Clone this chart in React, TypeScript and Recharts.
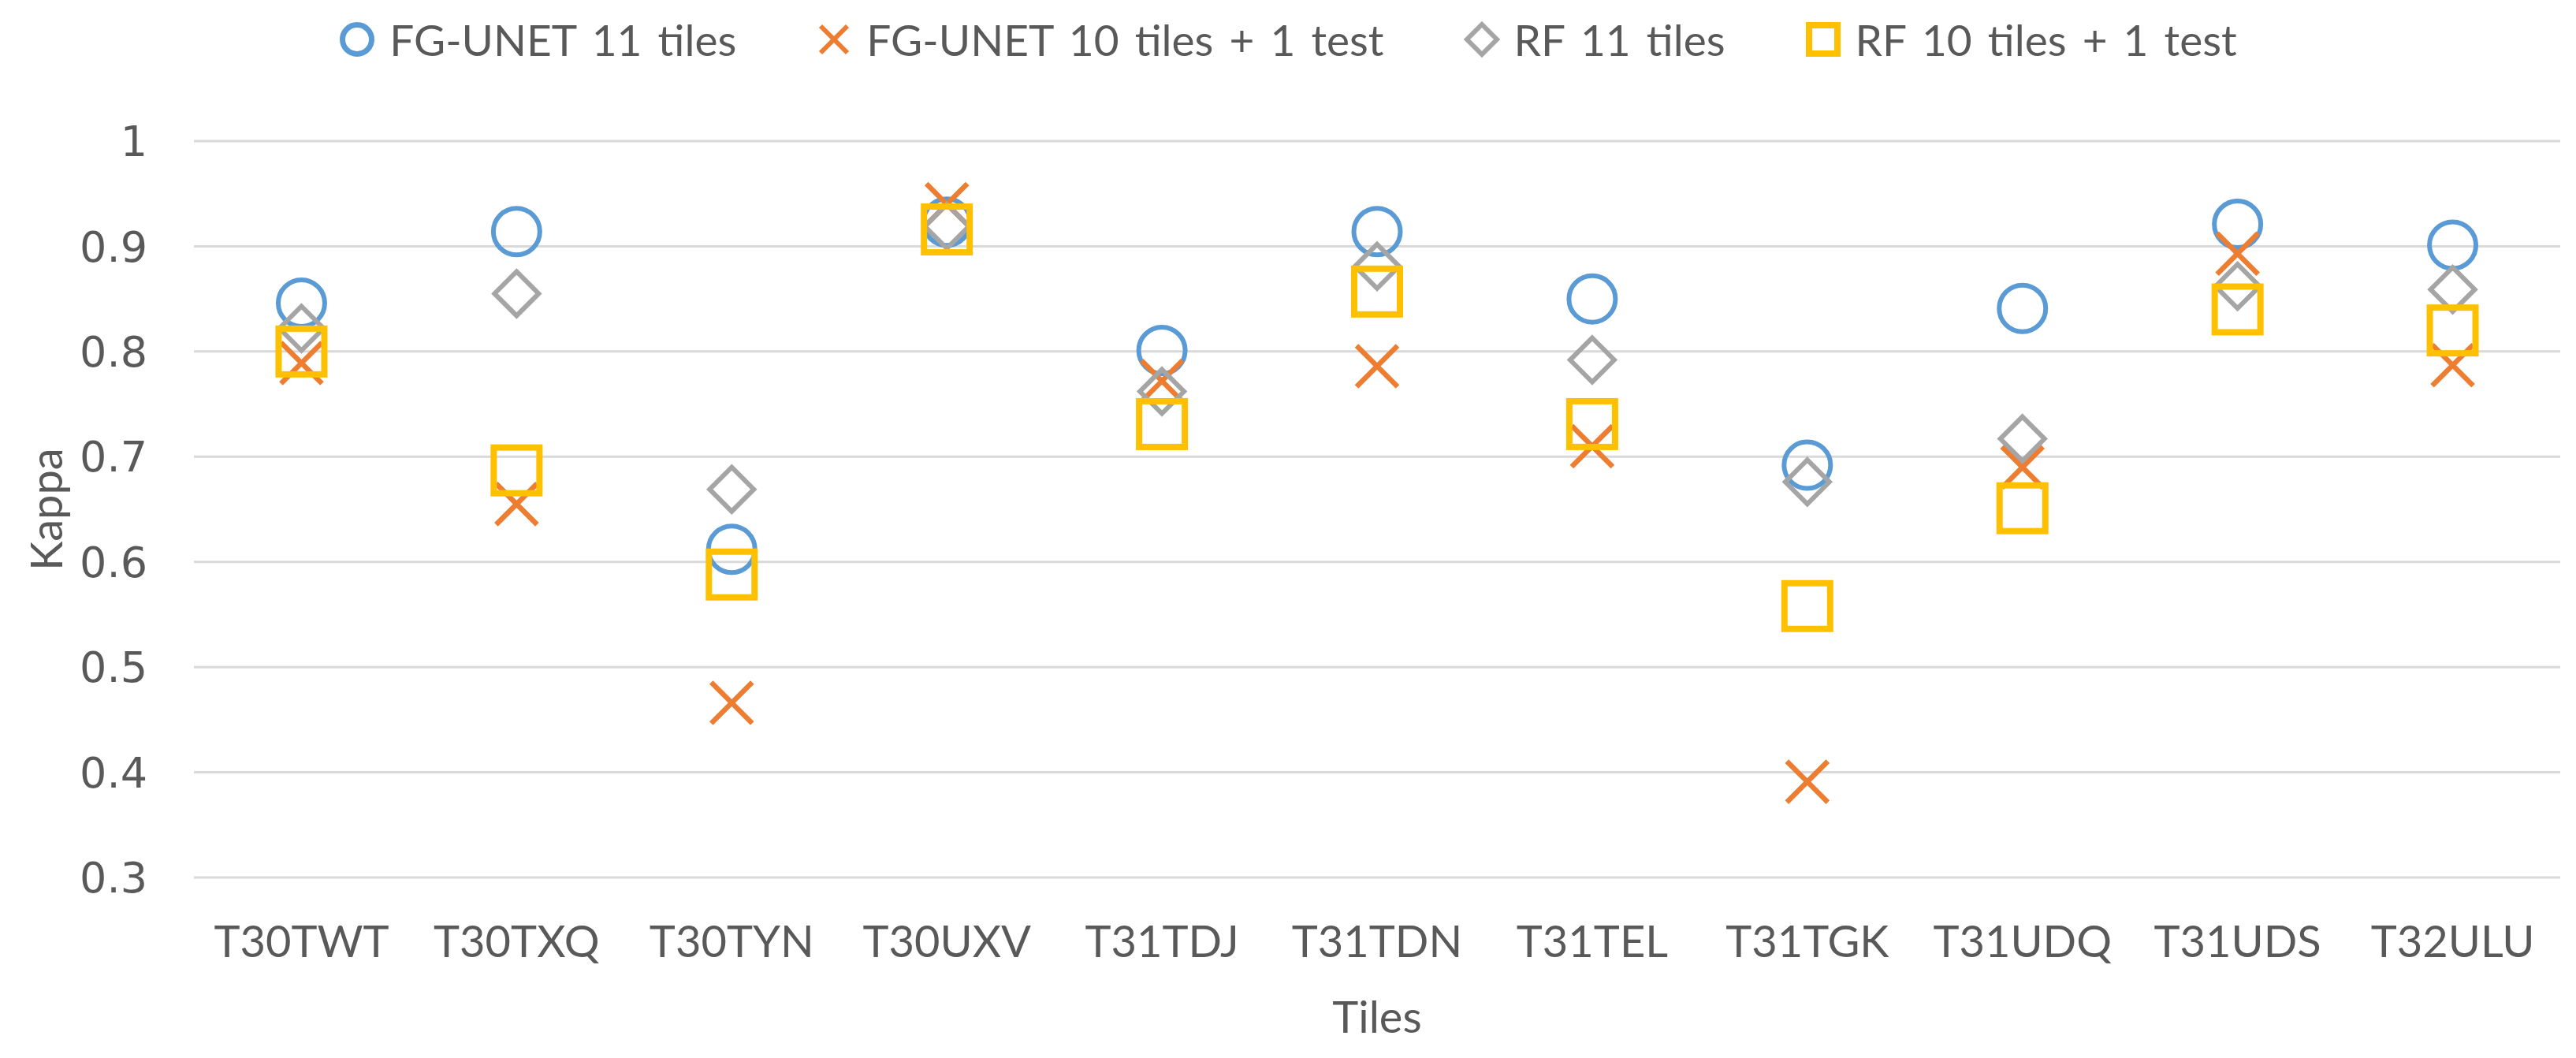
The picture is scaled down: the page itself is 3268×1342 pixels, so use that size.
import React from "react";
import { ScatterChart, Scatter, XAxis, YAxis, CartesianGrid } from "recharts";

const tiles = ["T30TWT", "T30TXQ", "T30TYN", "T30UXV", "T31TDJ", "T31TDN", "T31TEL", "T31TGK", "T31UDQ", "T31UDS", "T32ULU"];
const fgUnet11 = [0.846, 0.914, 0.612, 0.923, 0.801, 0.914, 0.85, 0.692, 0.841, 0.921, 0.901];
const fgUnet10 = [0.789, 0.655, 0.466, 0.94, 0.772, 0.786, 0.71, 0.391, 0.69, 0.893, 0.787];
const rf11 = [0.822, 0.855, 0.669, 0.919, 0.762, 0.881, 0.792, 0.676, 0.717, 0.862, 0.859];
const rf10 = [0.8, 0.687, 0.588, 0.916, 0.731, 0.857, 0.731, 0.558, 0.651, 0.84, 0.82];
const yTicks = [0.3, 0.4, 0.5, 0.6, 0.7, 0.8, 0.9, 1];
const xTicks = tiles.map((_, i) => i);

const BLUE = "#5B9BD5";
const ORANGE = "#ED7D31";
const GRAY = "#A5A5A5";
const GOLD = "#FFC000";
const TEXT = "#595959";
const FONT = "Lato, 'Noto Sans', sans-serif";

const toPoints = (vals: number[]) => tiles.map((t, i) => ({ idx: i, tile: t, v: vals[i] }));

// marker glyphs, size = half extent
const drawMarker = (kind: string, cx: number, cy: number, s: number, sw: number) => {
  if (kind === "circle") return <circle cx={cx} cy={cy} r={s} fill="none" stroke={BLUE} strokeWidth={sw} />;
  if (kind === "cross")
    return (
      <g stroke={ORANGE} strokeWidth={sw}>
        <line x1={cx - s} y1={cy - s} x2={cx + s} y2={cy + s} />
        <line x1={cx - s} y1={cy + s} x2={cx + s} y2={cy - s} />
      </g>
    );
  if (kind === "diamond")
    return (
      <polygon
        points={`${cx},${cy - s} ${cx + s},${cy} ${cx},${cy + s} ${cx - s},${cy}`}
        fill="none"
        stroke={GRAY}
        strokeWidth={sw}
      />
    );
  return <rect x={cx - s} y={cy - s} width={s * 2} height={s * 2} fill="none" stroke={GOLD} strokeWidth={sw} />;
};

const series = [
  { name: "FG-UNET 11 tiles", kind: "circle", values: fgUnet11, size: 29.5, sw: 6, legS: 18.5, legW: 7 },
  { name: "FG-UNET 10 tiles + 1 test", kind: "cross", values: fgUnet10, size: 26, sw: 6.5, legS: 17, legW: 6 },
  { name: "RF 11 tiles", kind: "diamond", values: rf11, size: 28, sw: 6, legS: 19, legW: 6 },
  { name: "RF 10 tiles + 1 test", kind: "square", values: rf10, size: 29, sw: 8, legS: 18, legW: 8 },
];

const KappaLabel = ({ viewBox }: any) => {
  const x = viewBox.x + 57;
  const y = viewBox.y + viewBox.height / 2;
  return (
    <text
      x={x}
      y={y}
      transform={`rotate(-90, ${x}, ${y})`}
      textAnchor="middle"
      dominantBaseline="central"
      fill={TEXT}
      fontFamily={FONT}
      fontSize={56}
    >
      Kappa
    </text>
  );
};

function Legend() {
  return (
    <div
      style={{
        position: "absolute",
        top: 0,
        left: 0,
        width: 3268,
        height: 100,
        display: "flex",
        justifyContent: "center",
        alignItems: "center",
        gap: 101,
        fontFamily: FONT,
        fontSize: 55,
        wordSpacing: 6,
        color: TEXT,
      }}
    >
      {series.map((s) => (
        <div key={s.name} style={{ display: "flex", alignItems: "center", gap: 18 }}>
          <svg width={46} height={46}>
            {drawMarker(s.kind, 23, 23, s.legS, s.legW)}
          </svg>
          <span>{s.name}</span>
        </div>
      ))}
    </div>
  );
}

export default function App() {
  return (
    <div style={{ position: "absolute", left: 0, top: 0, width: 3268, height: 1342, background: "#fff" }}>
      <ScatterChart width={3268} height={1342} margin={{ top: 179, right: 20, bottom: 0, left: 0 }}>
        <CartesianGrid vertical={false} stroke="#D9D9D9" strokeWidth={3} />
        <XAxis
          type="number"
          dataKey="idx"
          domain={[-0.5, 10.5]}
          ticks={xTicks}
          interval={0}
          tickFormatter={(i: number) => tiles[i]}
          axisLine={false}
          tickLine={false}
          tickMargin={55}
          height={229}
          tick={{ fill: TEXT, fontSize: 56, fontFamily: FONT }}
          label={{ value: "Tiles", position: "insideBottom", offset: 32, fill: TEXT, fontSize: 56, fontFamily: FONT }}
        />
        <YAxis
          type="number"
          dataKey="v"
          domain={[0.3, 1]}
          ticks={yTicks}
          interval={0}
          tickFormatter={(v: number) => (v === 1 ? "1" : v.toFixed(1))}
          axisLine={false}
          tickLine={false}
          tickMargin={53}
          width={246}
          tick={{ fill: TEXT, fontSize: 54, fontFamily: "'DejaVu Sans', sans-serif" }}
          label={<KappaLabel />}
        />
        {series.map((s) => (
          <Scatter
            key={s.name}
            name={s.name}
            data={toPoints(s.values)}
            isAnimationActive={false}
            shape={(p: any) => drawMarker(s.kind, p.cx, p.cy, s.size, s.sw)}
          />
        ))}
      </ScatterChart>
      <Legend />
    </div>
  );
}
